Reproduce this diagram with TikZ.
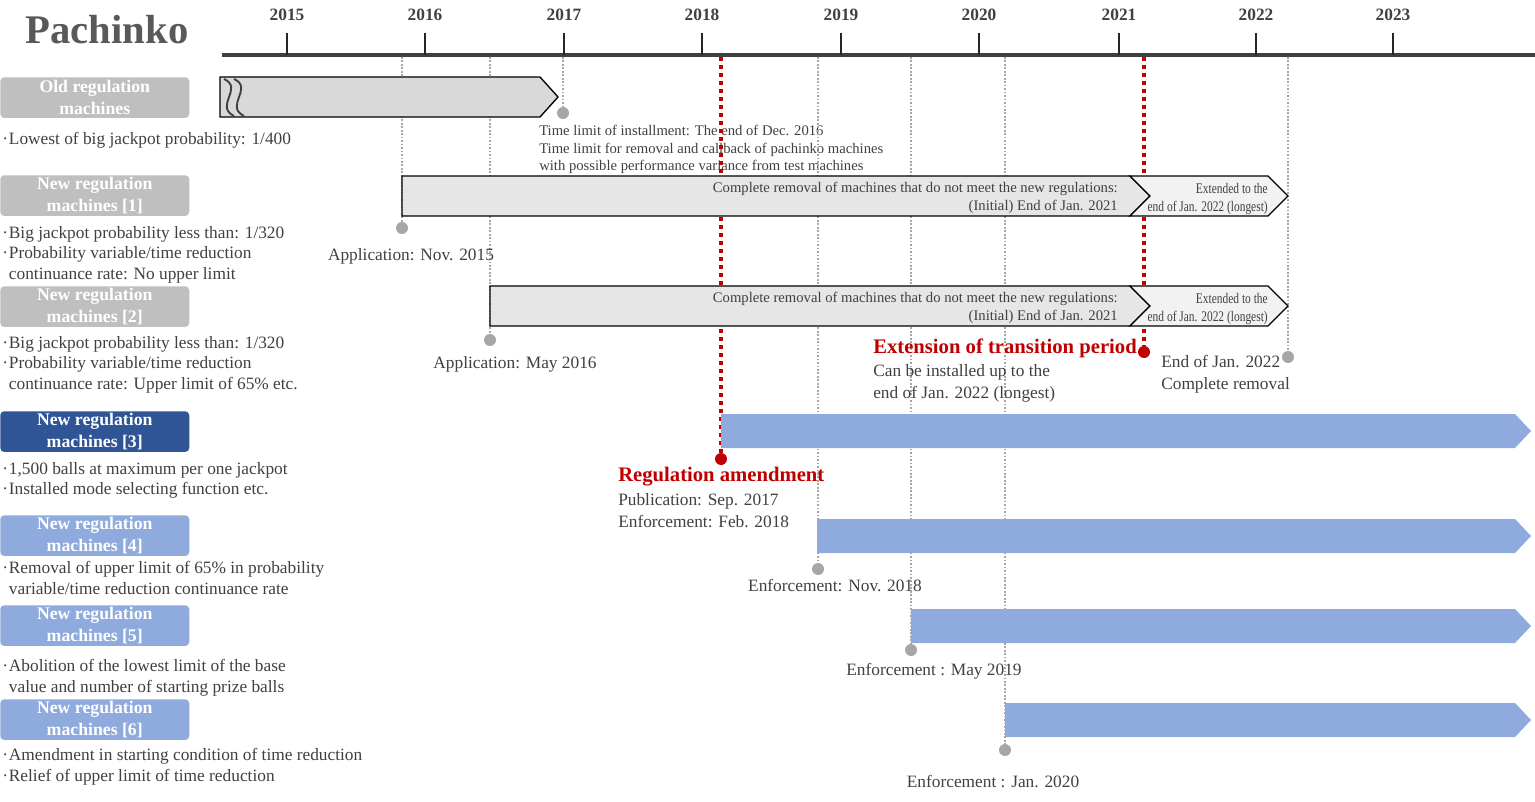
\documentclass[tikz,border=0pt]{standalone}
\usepackage{fontspec}
\setmainfont{Liberation Serif}
\newfontfamily\narrowserif[FakeStretch=0.78]{Liberation Serif}
\usepackage{tikz}
\usetikzlibrary{positioning}
\usepackage{xcolor}

\definecolor{txtgray}{HTML}{404040}
\definecolor{titlegray}{HTML}{595959}
\definecolor{axisgray}{HTML}{404040}
\definecolor{dotgray}{HTML}{A6A6A6}
\definecolor{amendred}{HTML}{C00000}
\definecolor{taggray}{HTML}{BFBFBF}
\definecolor{tagblue}{HTML}{2F5597}
\definecolor{lightblue}{HTML}{8FAADC}
\definecolor{oldfill}{HTML}{D9D9D9}
\definecolor{newfill}{HTML}{E7E6E6}
\definecolor{extfill}{HTML}{F2F2F2}

\newcommand{\bul}{\makebox[5pt][l]{\textperiodcentered}}
\newcommand{\ind}{\hspace*{5pt}}

\begin{document}
\begin{tikzpicture}[x=0.75pt, y=-0.75pt,
  year/.style={inner sep=0, text=txtgray, font=\fontsize{13}{15}\selectfont\bfseries},
  tick/.style={line width=2pt, black!85},
  tag/.style={
    rectangle, rounded corners=3pt, anchor=north west,
    minimum width=141.75pt, minimum height=30.5pt, inner sep=0,
    align=center, text=white, font=\fontsize{13.3}{16}\selectfont\bfseries
  },
  desc/.style={anchor=north west, inner sep=0, align=left, text=txtgray,
    font=\fontsize{13}{15.4}\selectfont},
  note/.style={inner sep=0, align=left, text=txtgray, font=\fontsize{13}{16.5}\selectfont},
  small/.style={inner sep=0, text=txtgray, font=\fontsize{11}{13.2}\selectfont},
  narrow/.style={inner sep=0, align=right, text=txtgray, font=\fontsize{11}{13.5}\narrowserif},
  head/.style={inner sep=0, text=amendred, font=\fontsize{15.5}{17}\selectfont\bfseries},
  gline/.style={draw=dotgray, line width=1.3pt, dash pattern=on 1.3pt off 1.3pt},
  rline/.style={draw=amendred, line width=3pt, dash pattern=on 3pt off 3pt},
  gdot/.style={circle, fill=dotgray, inner sep=0, minimum size=9pt},
  rdot/.style={circle, fill=amendred, inner sep=0, minimum size=9pt},
  oldbar/.style={fill=oldfill, draw=black, line width=1pt},
  newbar/.style={fill=newfill, draw=black, line width=1pt},
  extbar/.style={fill=extfill, draw=black, line width=1pt},
  bluebar/.style={fill=lightblue}
]
\useasboundingbox (0,0) rectangle (1535,802);

% Title and time axis
\node[inner sep=0, text=titlegray, font=\fontsize{30.5}{32}\selectfont\bfseries]
  (title) at (107,30) {Pachinko};
\draw[line width=3pt, axisgray] (222,55) -- (1535,55);

\node[year] (y15) at (287,15) {2015};
\node[year] (y16) at (425,15) {2016};
\node[year] (y17) at (564,15) {2017};
\node[year] (y18) at (702,15) {2018};
\node[year] (y19) at (841,15) {2019};
\node[year] (y20) at (979,15) {2020};
\node[year] (y21) at (1119,15) {2021};
\node[year] (y22) at (1256,15) {2022};
\node[year] (y23) at (1393,15) {2023};
\draw[tick] (287,33) -- (287,55);
\draw[tick] (425,33) -- (425,55);
\draw[tick] (564,33) -- (564,55);
\draw[tick] (702,33) -- (702,55);
\draw[tick] (841,33) -- (841,55);
\draw[tick] (979,33) -- (979,55);
\draw[tick] (1119,33) -- (1119,55);
\draw[tick] (1256,33) -- (1256,55);
\draw[tick] (1393,33) -- (1393,55);

% Note under the old machines (lies below the red line)
\node[small, align=left, anchor=north west] (oldnote) at (539,125)
  {Time limit of installment: The end of Dec. 2016\\
   Time limit for removal and callback of pachinko machines\\
   with possible performance variance from test machines};

% Date markers: dotted drop lines from the axis
\coordinate (aNov15) at (402,57);
\coordinate (aMay16) at (490,57);
\coordinate (aDec16) at (563,57);
\coordinate (aFeb18) at (721,57);
\coordinate (aNov18) at (818,57);
\coordinate (aMay19) at (911,57);
\coordinate (aJan20) at (1005,57);
\coordinate (aJan21) at (1144,57);
\coordinate (aJan22) at (1288,57);

\node[gdot] (dNov15) at (402,228) {};
\node[gdot] (dMay16) at (490,340) {};
\node[gdot] (dDec16) at (563,113) {};
\node[gdot] (dNov18) at (818,569) {};
\node[gdot] (dMay19) at (911,650) {};
\node[gdot] (dJan20) at (1005,750) {};
\node[gdot] (dJan22) at (1288,357) {};
\node[rdot] (dFeb18) at (721,459) {};
\node[rdot] (dJan21) at (1144,352) {};

\draw[gline] (aNov15) -- (dNov15);
\draw[gline] (aMay16) -- (dMay16);
\draw[gline] (aDec16) -- (dDec16);
\draw[gline] (aNov18) -- (dNov18);
\draw[gline] (aMay19) -- (dMay19);
\draw[gline] (aJan20) -- (dJan20);
\draw[gline] (aJan22) -- (dJan22);
\draw[rline] (aFeb18) -- (dFeb18);
\draw[rline] (aJan21) -- (dJan21);

% Bars
\draw[oldbar] (220,77) -- (540,77) -- (558,97) -- (540,117) -- (220,117) -- cycle;
\draw[line width=1.4pt, axisgray] (224,79) .. controls (244,88) and (214,106) .. (234,116);
\draw[line width=1.4pt, axisgray] (234,79) .. controls (254,88) and (224,106) .. (244,116);

\draw[newbar] (402,176) -- (1130,176) -- (1150,196) -- (1130,216) -- (402,216) -- cycle;
\draw[extbar] (1130,176) -- (1268,176) -- (1288,196) -- (1268,216) -- (1130,216) -- (1150,196) -- cycle;
\draw[newbar] (490,286) -- (1130,286) -- (1150,306) -- (1130,326) -- (490,326) -- cycle;
\draw[extbar] (1130,286) -- (1268,286) -- (1288,306) -- (1268,326) -- (1130,326) -- (1150,306) -- cycle;

\fill[bluebar] (721,414) -- (1515,414) -- (1531,431) -- (1515,448) -- (721,448) -- cycle;
\fill[bluebar] (817,519) -- (1515,519) -- (1531,536) -- (1515,553) -- (817,553) -- cycle;
\fill[bluebar] (911,609) -- (1515,609) -- (1531,626) -- (1515,643) -- (911,643) -- cycle;
\fill[bluebar] (1005,703) -- (1515,703) -- (1531,720) -- (1515,737) -- (1005,737) -- cycle;

% Texts inside the bars
\node[small, align=right, anchor=north east] (bar1txt) at (1118,182)
  {Complete removal of machines that do not meet the new regulations:\\
   (Initial) End of Jan. 2021};
\node[narrow, anchor=north east] (ext1txt) at (1268,183)
  {Extended to the\\end of Jan. 2022 (longest)};
\node[small, align=right, anchor=north east] (bar2txt) at (1118,292)
  {Complete removal of machines that do not meet the new regulations:\\
   (Initial) End of Jan. 2021};
\node[narrow, anchor=north east] (ext2txt) at (1268,293)
  {Extended to the\\end of Jan. 2022 (longest)};

% Machine tags on the left
\node[tag, fill=taggray] (old) at (0,77) {Old regulation\\machines};
\node[tag, fill=taggray] (new1) at (0,175) {New regulation\\machines [1]};
\node[tag, fill=taggray] (new2) at (0,286) {New regulation\\machines [2]};
\node[tag, fill=tagblue] (new3) at (0,411) {New regulation\\machines [3]};
\node[tag, fill=lightblue] (new4) at (0,515) {New regulation\\machines [4]};
\node[tag, fill=lightblue] (new5) at (0,605) {New regulation\\machines [5]};
\node[tag, fill=lightblue] (new6) at (0,699) {New regulation\\machines [6]};

% Specifications under each tag
\node[desc] (olddesc) at (2,132) {\bul Lowest of big jackpot probability: 1/400};
\node[desc] (new1desc) at (2,226)
  {\bul Big jackpot probability less than: 1/320\\
   \bul Probability variable/time reduction\\
   \ind continuance rate: No upper limit};
\node[desc] (new2desc) at (2,336)
  {\bul Big jackpot probability less than: 1/320\\
   \bul Probability variable/time reduction\\
   \ind continuance rate: Upper limit of 65\% etc.};
\node[desc] (new3desc) at (2,462)
  {\bul 1,500 balls at maximum per one jackpot\\
   \bul Installed mode selecting function etc.};
\node[desc] (new4desc) at (2,561)
  {\bul Removal of upper limit of 65\% in probability\\
   \ind variable/time reduction continuance rate};
\node[desc] (new5desc) at (2,659)
  {\bul Abolition of the lowest limit of the base\\
   \ind value and number of starting prize balls};
\node[desc] (new6desc) at (2,748)
  {\bul Amendment in starting condition of time reduction\\
   \bul Relief of upper limit of time reduction};

% Date labels
\node[note] (appNov15) at (411,256) {Application: Nov. 2015};
\node[note] (appMay16) at (515,364) {Application: May 2016};
\node[note] (enfNov18) at (835,586) {Enforcement: Nov. 2018};
\node[note] (enfMay19) at (934,671) {Enforcement : May 2019};
\node[note] (enfJan20) at (993,782) {Enforcement : Jan. 2020};

% Red events
\node[head, anchor=west] (amend) at (618,477) {Regulation amendment};
\node[note, anchor=north west] (amendtxt) at (618,493)
  {Publication: Sep. 2017\\Enforcement: Feb. 2018};
\node[head, anchor=west] (extend) at (873,348) {Extension of transition period};
\node[note, anchor=north west] (extendtxt) at (873,364)
  {Can be installed up to the\\end of Jan. 2022 (longest)};
\node[note, anchor=north west] (removal) at (1161,355)
  {End of Jan. 2022\\Complete removal};

\end{tikzpicture}
\end{document}
